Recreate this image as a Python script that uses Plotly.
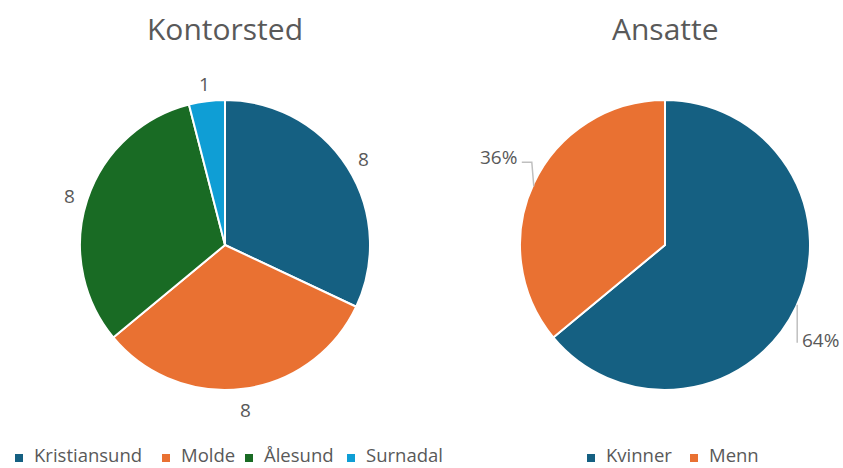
import math
import plotly.graph_objects as go

office_labels = ["Kristiansund", "Molde", "Ålesund", "Surnadal"]
office_values = [8, 8, 8, 1]
office_colors = ["#156082", "#E97132", "#196B24", "#0F9ED5"]

staff_labels = ["Kvinner", "Menn"]
staff_values = [64, 36]
staff_colors = ["#156082", "#E97132"]

titles = ["Kontorsted", "Ansatte"]

W, H = 843, 468
TXT = "#595959"
LINE = "#BFBFBF"
FONT = "Open Sans"
LBL = 19
LEG_FONT = 18.5

# layout geometry (pixels)
Lcx, Lcy, R = 225, 245, 145
Rcx, Rcy = 665, 245
LBL_R = 164
left_legend_x = [15, 162, 245, 347]
right_legend_x = [587, 690]
LEG_Y = 458
LEG_TXT_Y = 454
SQ = 8


def px(x):
    return x / W


def py(y):
    return 1 - y / H


def dom(cx, cy, r):
    return dict(x=[px(cx - r), px(cx + r)], y=[py(cy + r), py(cy - r)])


fig = go.Figure()
fig.add_trace(go.Pie(
    labels=office_labels, values=office_values, sort=False, direction="clockwise",
    rotation=0, marker=dict(colors=office_colors, line=dict(color="white", width=2)),
    textinfo="none", domain=dom(Lcx, Lcy, R), showlegend=False,
    hoverinfo="label+value",
))
fig.add_trace(go.Pie(
    labels=staff_labels, values=staff_values, sort=False, direction="clockwise",
    rotation=0, marker=dict(colors=staff_colors, line=dict(color="white", width=2)),
    textinfo="none", domain=dom(Rcx, Rcy, R), showlegend=False,
    hoverinfo="label+percent",
))

annotations = []
shapes = []


def text(x, y, s, size, anchor="center"):
    annotations.append(dict(x=px(x), y=py(y), xref="paper", yref="paper", text=s,
                            showarrow=False, xanchor=anchor, yanchor="middle",
                            font=dict(size=size, color=TXT, family=FONT)))


# left pie value labels, placed along slice mid-angles
total = sum(office_values)
acc = 0.0
for v in office_values:
    mid = (acc + v / 2) / total * 2 * math.pi
    acc += v
    text(Lcx + LBL_R * math.sin(mid), Lcy - LBL_R * math.cos(mid) + 2, str(v), LBL)

# right pie percentage labels with leader lines
total = sum(staff_values)
acc = 0.0
for v in staff_values:
    mid = (acc + v / 2) / total * 2 * math.pi
    acc += v
    ex = Rcx + R * math.sin(mid)
    ey = Rcy - R * math.cos(mid)
    pct = f"{round(v / total * 100)}%"
    if math.sin(mid) > 0:
        shapes.append(dict(type="path", xref="paper", yref="paper",
                           path=f"M {px(ex+1)},{py(ey-2)} L {px(ex+1)},{py(ey+36)}",
                           line=dict(color=LINE, width=1.5)))
        text(ex + 4, ey + 33, pct, LBL, "left")
    else:
        shapes.append(dict(type="path", xref="paper", yref="paper",
                           path=f"M {px(ex)},{py(ey+3)} L {px(ex-2)},{py(ey-21)} L {px(ex-12)},{py(ey-21)}",
                           line=dict(color=LINE, width=1.5)))
        text(ex - 15, ey - 26, pct, LBL, "right")

# titles
for t, cx in zip(titles, (Lcx, Rcx)):
    text(cx, 28, t, 30)

# legends
for labs, cols, xs in ((office_labels, office_colors, left_legend_x),
                       (staff_labels, staff_colors, right_legend_x)):
    for lab, col, x in zip(labs, cols, xs):
        shapes.append(dict(type="rect", xref="paper", yref="paper",
                           x0=px(x), x1=px(x + SQ), y0=py(LEG_Y + SQ / 2), y1=py(LEG_Y - SQ / 2),
                           fillcolor=col, line=dict(width=0)))
        text(x + SQ + 9, LEG_TXT_Y, lab, LEG_FONT, "left")

fig.update_layout(
    width=W, height=H, margin=dict(l=0, r=0, t=0, b=0),
    paper_bgcolor="white", plot_bgcolor="white",
    font=dict(family=FONT, color=TXT),
    annotations=annotations, shapes=shapes, showlegend=False,
)

fig.write_html(
    "out.html",
    config={"displayModeBar": False},
    post_script="document.body.style.margin='0';document.body.style.padding='0';document.body.style.overflow='hidden';",
)
